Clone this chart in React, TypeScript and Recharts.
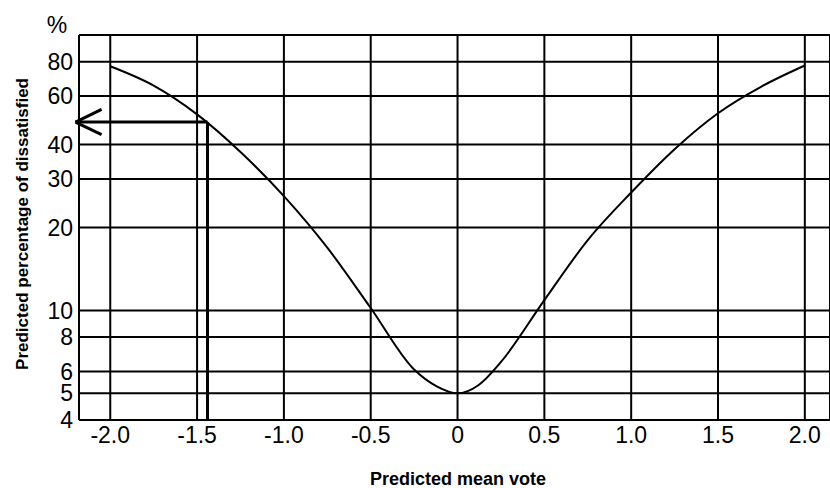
import { LineChart, Line, XAxis, YAxis, CartesianGrid, ReferenceLine } from "recharts";

// PMV / PPD curve
const pmvValues = [-2.0, -1.75, -1.5, -1.25, -1.0, -0.75, -0.5, -0.25, -0.12, 0, 0.12, 0.25, 0.5, 0.75, 1.0, 1.25, 1.5, 1.75, 2.0];
const ppdValues = [77, 65.5, 51.5, 37.6, 26, 16.9, 10.2, 6.1, 5.3, 5, 5.35, 6.5, 10.9, 18, 26.8, 38.5, 52, 65, 77.5];

const xTicks = [-2, -1.5, -1, -0.5, 0, 0.5, 1, 1.5, 2];
const xTickLabels = ["-2.0", "-1.5", "-1.0", "-0.5", "0", "0.5", "1.0", "1.5", "2.0"];
const yTicks = [4, 5, 6, 8, 10, 20, 30, 40, 60, 80, 100];
const yTickLabels = ["4", "5", "6", "8", "10", "20", "30", "40", "60", "80", ""];

// worked example arrow: PMV -1.44 -> PPD ~48 %
const arrowPmv = [-1.44, -1.44, -2.2];
const arrowPpd = [4, 48.3, 48.3];
const headPmv = [-2.05, -2.2, -2.05];
const headPpd = [53.7, 48.3, 43.5];

const curve = pmvValues.map((pmv, i) => ({ pmv, ppd: ppdValues[i] }));

const segs = (xs: number[], ys: number[]) =>
  xs.slice(1).map((x, i) => [
    { x: xs[i], y: ys[i] },
    { x, y: ys[i + 1] },
  ]);

const font = "'Liberation Sans', Arial, sans-serif";

const YLabel = () => (
  <g>
    <text x={57} y={33} textAnchor="middle" fontSize={23} fill="#000" fontFamily={font}>
      %
    </text>
    <text
      x={28}
      y={224}
      transform="rotate(-90, 28, 224)"
      textAnchor="middle"
      fontSize={17}
      fontWeight="bold"
      fill="#000"
      fontFamily={font}
    >
      Predicted percentage of dissatisfied
    </text>
  </g>
);

const XLabel = (props: any) => {
  const vb = props.viewBox;
  return (
    <text x={458} y={vb.y + 65} textAnchor="middle" fontSize={18} fontWeight="bold" fill="#000" fontFamily={font}>
      Predicted mean vote
    </text>
  );
};

export default function App() {
  return (
    <div style={{ position: "absolute", left: 0, top: 0, width: 830, height: 488, background: "#fff", fontFamily: font }}>
      <LineChart width={830} height={488} data={curve} margin={{ top: 35, right: 0, bottom: 0, left: 0 }}>
        <CartesianGrid stroke="#000" strokeWidth={2} />
        <XAxis
          dataKey="pmv"
          type="number"
          domain={[-2.18, 2.145]}
          allowDataOverflow
          ticks={xTicks}
          interval={0}
          tickFormatter={(v: number) => xTickLabels[xTicks.indexOf(v)] ?? ""}
          tick={{ fill: "#000", fontSize: 23, fontFamily: font }}
          tickLine={false}
          tickSize={0}
          tickMargin={7}
          axisLine={{ stroke: "#000", strokeWidth: 2 }}
          height={68}
          label={<XLabel />}
        />
        <YAxis
          type="number"
          scale="log"
          domain={[4, 100]}
          allowDataOverflow
          ticks={yTicks}
          interval={0}
          tickFormatter={(v: number) => yTickLabels[yTicks.indexOf(v)] ?? ""}
          tick={{ fill: "#000", fontSize: 23, fontFamily: font }}
          tickLine={false}
          tickSize={0}
          tickMargin={6}
          axisLine={{ stroke: "#000", strokeWidth: 2 }}
          width={79}
          label={<YLabel />}
        />
        {segs(arrowPmv, arrowPpd).map((s, i) => (
          <ReferenceLine key={"a" + i} segment={s} stroke="#000" strokeWidth={3} ifOverflow="visible" />
        ))}
        {segs(headPmv, headPpd).map((s, i) => (
          <ReferenceLine key={"h" + i} segment={s} stroke="#000" strokeWidth={3} ifOverflow="visible" />
        ))}
        <Line
          dataKey="ppd"
          type="monotone"
          stroke="#000"
          strokeWidth={2}
          dot={false}
          isAnimationActive={false}
        />
      </LineChart>
    </div>
  );
}
